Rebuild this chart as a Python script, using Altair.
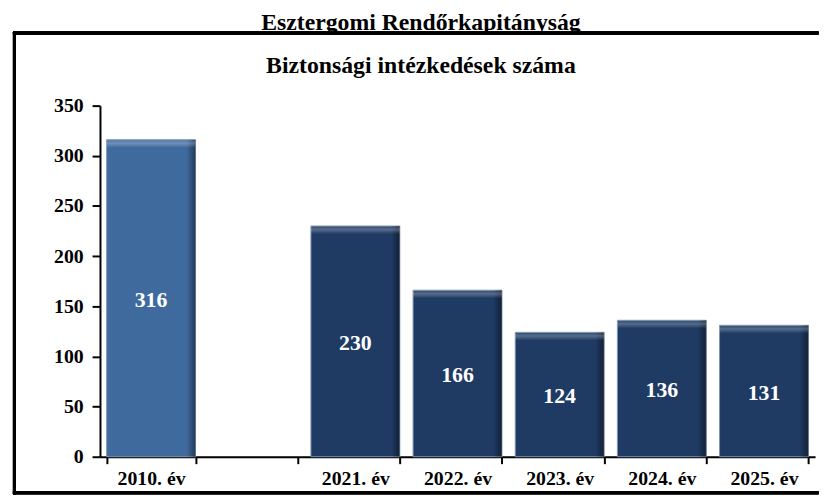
import altair as alt
import pandas as pd

# categories (x axis, including the empty slot between 2010 and 2021)
years = ["2010. év", " ", "2021. év", "2022. év", "2023. év", "2024. év", "2025. év"]
bar_years = ["2010. év", "2021. év", "2022. év", "2023. év", "2024. év", "2025. év"]
values = [316, 230, 166, 124, 136, 131]
y_ticks = [0, 50, 100, 150, 200, 250, 300, 350]

outer_title = "Esztergomi Rendőrkapitányság"
inner_title = "Biztonsági intézkedések száma"

df = pd.DataFrame({"year": bar_years, "value": values})

FONT = "Liberation Serif"
LIGHT = "#3F6A9E"
DARK = "#1F3B64"

x_enc = alt.X(
    "year:N",
    sort=years,
    scale=alt.Scale(domain=years, paddingInner=0.13, paddingOuter=0.065),
    axis=alt.Axis(title=None, labelAngle=0, tickBand="extent", labelPadding=5,
                  tickSize=7, labelFontSize=20),
)
y_scale = alt.Scale(domain=[0, 350], nice=False)
y_enc = alt.Y(
    "value:Q",
    scale=y_scale,
    axis=alt.Axis(title=None, values=y_ticks, grid=False, tickSize=8,
                  labelPadding=9, labelFontSize=20),
)

base = alt.Chart(df)

bars = base.mark_bar(stroke="#8094B0", strokeWidth=1).encode(
    x=x_enc,
    y=y_enc,
    color=alt.condition(alt.datum.year == "2010. év", alt.value(LIGHT), alt.value(DARK)),
)

shade = base.mark_bar(
    color=alt.Gradient(
        gradient="linear",
        x1=0, x2=1, y1=0, y2=0,
        stops=[
            alt.GradientStop(color="rgba(0,0,0,0)", offset=0),
            alt.GradientStop(color="rgba(0,0,0,0)", offset=0.9),
            alt.GradientStop(color="rgba(0,0,0,0.45)", offset=1),
        ],
    )
).encode(x=x_enc, y=alt.Y("value:Q", scale=y_scale))

top_strip = base.transform_calculate(
    top2="datum.value - 8"
).mark_bar(
    color=alt.Gradient(
        gradient="linear",
        x1=0, x2=0, y1=0, y2=1,
        stops=[
            alt.GradientStop(color="rgba(255,255,255,0.08)", offset=0),
            alt.GradientStop(color="rgba(255,255,255,0.25)", offset=0.45),
            alt.GradientStop(color="rgba(255,255,255,0)", offset=1),
        ],
    )
).encode(x=x_enc, y=alt.Y("value:Q", scale=y_scale), y2="top2:Q")

labels = base.transform_calculate(
    mid="datum.value / 2"
).mark_text(
    font=FONT, fontSize=22, fontWeight="bold", color="white", baseline="middle", dy=2
).encode(
    x=x_enc,
    y=alt.Y("mid:Q", scale=y_scale),
    text=alt.Text("value:Q"),
)

# frame around the inner chart (left, top, bottom edges)
frame_left = base.mark_rule(color="black", strokeWidth=3, strokeCap="square").encode(
    x=alt.value(-86.5), y=alt.value(-73.5), y2=alt.value(391.5)
)
frame_top = base.mark_rule(color="black", strokeWidth=3, strokeCap="square").encode(
    x=alt.value(-86.5), x2=alt.value(725), y=alt.value(-73.5)
)
frame_bottom = base.mark_rule(color="black", strokeWidth=3, strokeCap="square").encode(
    x=alt.value(-86.5), x2=alt.value(725), y=alt.value(391.5)
)

chart = alt.layer(
    bars, shade, top_strip, labels, frame_left, frame_top, frame_bottom
).properties(
    width=723,
    height=355,
    padding={"left": 4, "top": 0, "right": 0, "bottom": 0},
    title=alt.Title(
        text=outer_title,
        subtitle=inner_title,
        anchor="middle",
        font=FONT,
        fontSize=24,
        fontWeight="bold",
        color="black",
        subtitleFont=FONT,
        subtitleFontSize=24,
        subtitleFontWeight="bold",
        subtitleColor="black",
        subtitlePadding=19,
        offset=-47.5,
        dx=-37,
    ),
).configure_axis(
    labelFont=FONT,
    labelFontWeight="bold",
    labelColor="black",
    domainColor="black",
    domainWidth=2,
    tickColor="black",
    tickWidth=2,
).configure_view(stroke=None)

chart.save("out.html", embed_options={"renderer": "svg", "actions": False})
